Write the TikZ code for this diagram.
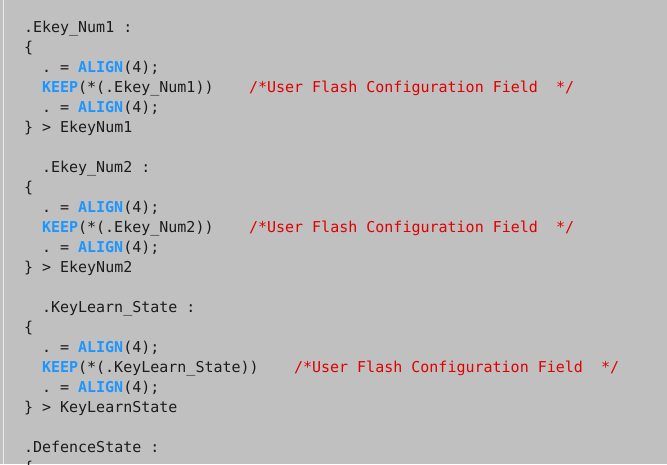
\documentclass[tikz,border=0pt]{standalone}
\usepackage{fontspec}
\setmonofont{DejaVu Sans Mono}
\definecolor{bgc}{RGB}{192,192,192}
\definecolor{codec}{RGB}{28,28,28}
\definecolor{kwc}{RGB}{30,150,255}
\definecolor{cmc}{RGB}{225,0,0}
\definecolor{edgec}{RGB}{235,235,235}
\newcommand\kw[1]{\textcolor{kwc}{\bfseries #1}}
\newcommand\cm{\textcolor{cmc}{/*User Flash Configuration Field\ \ */}}
\begin{document}
\begin{tikzpicture}[x=1pt,y=-1pt,
  codeline/.style={anchor=base west,inner sep=0pt,outer sep=0pt,text=codec,
    font=\fontsize{15pt}{20pt}\ttfamily}]
\fill[bgc] (0,0) rectangle (667,464);
\useasboundingbox (0,0) rectangle (667,464);
\clip (0,0) rectangle (667,464);
\fill[edgec] (3.2,0) rectangle (4.4,464);
% block 1
\node[codeline] (l0) at (24,32) {.Ekey\_Num1 :};
\node[codeline] (l1) at (24,52) {\{};
\node[codeline] (l2) at (42,72) {. = \kw{ALIGN}(4);};
\node[codeline] (l3) at (42,92) {\kw{KEEP}(*(.Ekey\_Num1))};
\node[codeline] (c3) at (249,92) {\cm};
\node[codeline] (l4) at (42,112) {. = \kw{ALIGN}(4);};
\node[codeline] (l5) at (24,132) {\} > EkeyNum1};
% block 2
\node[codeline] (l7) at (42,172) {.Ekey\_Num2 :};
\node[codeline] (l8) at (24,192) {\{};
\node[codeline] (l9) at (42,212) {. = \kw{ALIGN}(4);};
\node[codeline] (l10) at (42,232) {\kw{KEEP}(*(.Ekey\_Num2))};
\node[codeline] (c10) at (249,232) {\cm};
\node[codeline] (l11) at (42,252) {. = \kw{ALIGN}(4);};
\node[codeline] (l12) at (24,272) {\} > EkeyNum2};
% block 3
\node[codeline] (l14) at (42,312) {.KeyLearn\_State :};
\node[codeline] (l15) at (24,332) {\{};
\node[codeline] (l16) at (42,352) {. = \kw{ALIGN}(4);};
\node[codeline] (l17) at (42,372) {\kw{KEEP}(*(.KeyLearn\_State))};
\node[codeline] (c17) at (294,372) {\cm};
\node[codeline] (l18) at (42,392) {. = \kw{ALIGN}(4);};
\node[codeline] (l19) at (24,412) {\} > KeyLearnState};
% block 4
\node[codeline] (l21) at (24,452) {.DefenceState :};
\node[codeline] (l22) at (24,472) {\{};
\end{tikzpicture}
\end{document}
